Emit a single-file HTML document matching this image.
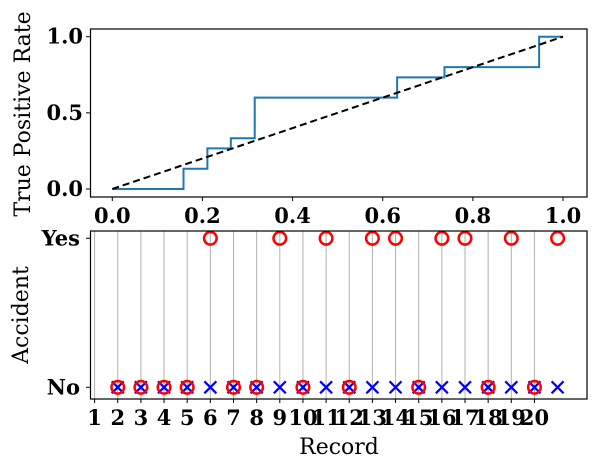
<!DOCTYPE html>
<html><head><meta charset="utf-8"><style>
body{margin:0;background:#fff}
svg text{font-family:"DejaVu Serif","Liberation Serif",serif}
.tk{font-weight:bold;font-size:21px}
.lb{font-size:22px}
</style></head><body>
<svg width="599" height="468" viewBox="0 0 599 468" xmlns="http://www.w3.org/2000/svg">
<g id="top"></g>
<g id="bot"></g>
</svg>
<script>
const rocFpr=[0,0.158,0.158,0.211,0.211,0.263,0.263,0.316,0.316,0.632,0.632,0.737,0.737,0.947,0.947,1];
const rocTpr=[0,0,0.133,0.133,0.267,0.267,0.333,0.333,0.6,0.6,0.733,0.733,0.8,0.8,1,1];
const rocXTicks=[0,0.2,0.4,0.6,0.8,1.0];
const rocXLabels=["0.0","0.2","0.4","0.6","0.8","1.0"];
const rocYTicks=[0,0.5,1.0];
const rocYLabels=["0.0","0.5","1.0"];
const recIdx=[1,2,3,4,5,6,7,8,9,10,11,12,13,14,15,16,17,18,19,20];
const recPred=[0,0,0,0,0,0,0,0,0,0,0,0,0,0,0,0,0,0,0,0];
const recActual=[0,0,0,0,1,0,0,1,0,1,0,1,1,0,1,1,0,1,0,1];
const recTicks=[0,1,2,3,4,5,6,7,8,9,10,11,12,13,14,15,16,17,18,19];
const recTickLabels=["1","2","3","4","5","6","7","8","9","10","11","12","13","14","15","16","17","18","19","20"];
const NS="http://www.w3.org/2000/svg";
function mk(p,t,a,txt){const e=document.createElementNS(NS,t);for(const k in a)e.setAttribute(k,a[k]);if(txt!==undefined)e.textContent=txt;p.appendChild(e);return e;}
// top
const T=document.getElementById('top');
const tx=v=>112.3+v*450.7, ty=v=>189-v*152.3;
let d=rocFpr.map((v,i)=>(i?'L':'M')+tx(v)+' '+ty(rocTpr[i])).join(' ');
let e=mk(T,'path',{d:d,fill:'none',stroke:'#1f77b4','stroke-width':2});


e=mk(T,'line',{x1:tx(0),y1:ty(0),x2:tx(1),y2:ty(1),stroke:'#000','stroke-width':2,'stroke-dasharray':'7,4'});


e=mk(T,'rect',{x:90.5,y:29,width:496.5,height:168,fill:'none',stroke:'#000','stroke-width':1.2});


rocXTicks.forEach((v,i)=>{mk(T,'line',{x1:tx(v),x2:tx(v),y1:197,y2:201,stroke:'#000'});
 e=mk(T,'text',{x:tx(v),y:223,'text-anchor':'middle',class:'tk'},rocXLabels[i]);
 
 });
rocYTicks.forEach((v,i)=>{mk(T,'line',{x1:86,x2:90.5,y1:ty(v),y2:ty(v),stroke:'#000'});
 e=mk(T,'text',{x:83,y:ty(v)+7,'text-anchor':'end',class:'tk'},rocYLabels[i]);
 
 });
e=mk(T,'text',{x:0,y:0,transform:'translate(30,114) rotate(-90)','text-anchor':'middle',class:'lb'},'True Positive Rate');


// bottom
const B=document.getElementById('bot');
const bx=v=>94.6+v*23.15, by=v=>387.3-v*149;
recTicks.forEach((v,i)=>{mk(B,'line',{x1:bx(v),x2:bx(v),y1:231,y2:399,stroke:'#b0b0b0','stroke-width':1});});
recIdx.forEach((v,i)=>{const cx=bx(v),cy=by(recPred[i]);
 e=mk(B,'path',{d:`M${cx-6} ${cy-6}L${cx+6} ${cy+6}M${cx-6} ${cy+6}L${cx+6} ${cy-6}`,stroke:'#0000ff','stroke-width':2.2,fill:'none'});
 
 });
recIdx.forEach((v,i)=>{
 e=mk(B,'circle',{cx:bx(v),cy:by(recActual[i]),r:6.3,stroke:'#ff0000','stroke-width':2.5,fill:'none'});
 
 });
e=mk(B,'rect',{x:90.5,y:231,width:496.5,height:168,fill:'none',stroke:'#000','stroke-width':1.2});


recTicks.forEach((v,i)=>{mk(B,'line',{x1:bx(v),x2:bx(v),y1:399,y2:403,stroke:'#000'});
 e=mk(B,'text',{x:bx(v),y:425,'text-anchor':'middle',class:'tk'},recTickLabels[i]);
 
 });
[[1,'Yes'],[0,'No']].forEach(([v,l])=>{mk(B,'line',{x1:86,x2:90.5,y1:by(v),y2:by(v),stroke:'#000'});
 e=mk(B,'text',{x:80,y:by(v)+7,'text-anchor':'end',class:'tk'},l);
 
 });
e=mk(B,'text',{x:0,y:0,transform:'translate(28,315) rotate(-90)','text-anchor':'middle',class:'lb'},'Accident');


e=mk(B,'text',{x:339,y:454,'text-anchor':'middle',class:'lb'},'Record');


</script>
</body></html>
